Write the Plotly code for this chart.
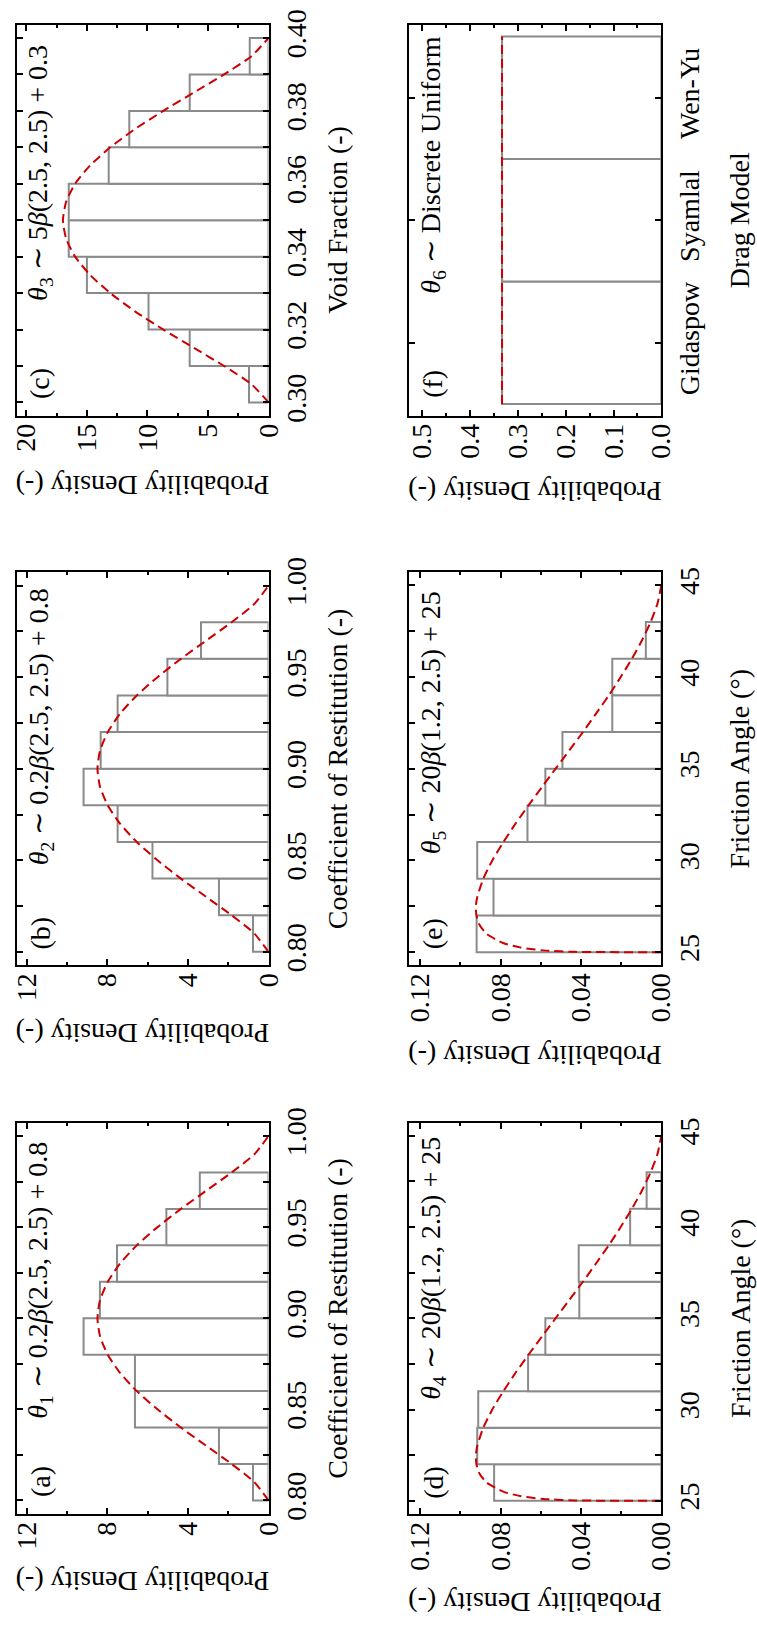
import plotly.graph_objects as go

W, H = 757, 1636
FONT = "Liberation Serif"
GRAY = "#8a8a8a"
RED = "#cc0000"

# ---------------- data ----------------
# (a) theta1, (b) theta2 : coefficient of restitution histograms (bin edges, density)
a_edges = [0.80, 0.82, 0.84, 0.86, 0.88, 0.90, 0.92, 0.94, 0.96, 0.98]
a_dens = [0.77, 2.46, 6.63, 6.63, 9.18, 8.37, 7.52, 5.07, 3.41]
b_edges = [0.80, 0.82, 0.84, 0.86, 0.88, 0.90, 0.92, 0.94, 0.96, 0.98]
b_dens = [0.77, 2.46, 5.76, 7.49, 9.18, 8.33, 7.49, 5.02, 3.35]
ab_curve_x = [0.80, 0.81, 0.82, 0.83, 0.84, 0.85, 0.86, 0.87, 0.88, 0.89, 0.90,
              0.91, 0.92, 0.93, 0.94, 0.95, 0.96, 0.97, 0.98, 0.99, 1.00]
ab_curve_y = [0.0, 0.70, 1.83, 3.09, 4.35, 5.51, 6.54, 7.37, 7.98, 8.36, 8.49,
              8.36, 7.98, 7.37, 6.54, 5.51, 4.35, 3.09, 1.83, 0.70, 0.0]

# (c) theta3 : void fraction
c_edges = [0.30, 0.31, 0.32, 0.33, 0.34, 0.35, 0.36, 0.37, 0.38, 0.39, 0.40]
c_dens = [1.61, 6.51, 9.91, 15.0, 16.5, 16.5, 13.2, 11.5, 6.51, 1.55]
c_curve_x = [0.300, 0.305, 0.310, 0.315, 0.320, 0.325, 0.330, 0.335, 0.340, 0.345, 0.350,
             0.355, 0.360, 0.365, 0.370, 0.375, 0.380, 0.385, 0.390, 0.395, 0.400]
c_curve_y = [0.0, 1.41, 3.67, 6.18, 8.69, 11.03, 13.07, 14.74, 15.97, 16.72, 16.98,
             16.72, 15.97, 14.74, 13.07, 11.03, 8.69, 6.18, 3.67, 1.41, 0.0]

# (d) theta4, (e) theta5 : friction angle
d_edges = [25, 27, 29, 31, 33, 35, 37, 39, 41, 43]
d_dens = [0.0832, 0.0916, 0.0911, 0.0663, 0.0577, 0.0408, 0.0411, 0.0155, 0.0073]
e_edges = [25, 27, 29, 31, 33, 35, 37, 39, 41, 43]
e_dens = [0.0919, 0.0835, 0.0916, 0.0666, 0.0577, 0.0492, 0.0244, 0.0244, 0.0077]
de_curve_x = [25, 25.02, 25.1, 25.25, 25.5, 26, 26.5, 27, 27.5, 28, 29, 30, 31, 32, 33,
              34, 35, 36, 37, 38, 39, 40, 41, 42, 43, 44, 45]
de_curve_y = [0.0, 0.0429, 0.0588, 0.0698, 0.0787, 0.0869, 0.0905, 0.0920, 0.0923,
              0.0916, 0.0886, 0.0841, 0.0786, 0.0726, 0.0661, 0.0594, 0.0526, 0.0458,
              0.0390, 0.0325, 0.0261, 0.0202, 0.0146, 0.0096, 0.0053, 0.0019, 0.0]

# (f) theta6 : drag model
f_models = ["Gidaspow", "Syamlal", "Wen-Yu"]
f_prob = [0.3333, 0.3333, 0.3333]

# ---------------- layout geometry (pixels) ----------------
cols = [(11, 270), (414, 674)]
rows = [(10, 406), (565, 963), (1123, 1519)]

panels = [
    dict(key="c", col=0, row=0, lab="(c)", theta="<i>θ</i><sub>3</sub> ∼ 5<i>β</i>(2.5, 2.5) + 0.3",
         ytitle="Void Fraction (-)", xt_y=477, th_y=160),
    dict(key="b", col=0, row=1, lab="(b)", theta="<i>θ</i><sub>2</sub> ∼ 0.2<i>β</i>(2.5, 2.5) + 0.8",
         ytitle="Coefficient of Restitution (-)", xt_y=1033, th_y=722),
    dict(key="a", col=0, row=2, lab="(a)", theta="<i>θ</i><sub>1</sub> ∼ 0.2<i>β</i>(2.5, 2.5) + 0.8",
         ytitle="Coefficient of Restitution (-)", xt_y=1588, th_y=1283),
    dict(key="f", col=1, row=0, lab="(f)", theta="<i>θ</i><sub>6</sub> ∼ Discrete Uniform",
         ytitle="Drag Model", xt_y=483, th_y=152),
    dict(key="e", col=1, row=1, lab="(e)", theta="<i>θ</i><sub>5</sub> ∼ 20<i>β</i>(1.2, 2.5) + 25",
         ytitle="Friction Angle (°)", xt_y=1054, th_y=717),
    dict(key="d", col=1, row=2, lab="(d)", theta="<i>θ</i><sub>4</sub> ∼ 20<i>β</i>(1.2, 2.5) + 25",
         ytitle="Friction Angle (°)", xt_y=1609, th_y=1270),
]

hist = {"a": (a_edges, a_dens), "b": (b_edges, b_dens), "c": (c_edges, c_dens),
        "d": (d_edges, d_dens), "e": (e_edges, e_dens)}
curves = {"a": (ab_curve_x, ab_curve_y), "b": (ab_curve_x, ab_curve_y),
          "c": (c_curve_x, c_curve_y), "d": (de_curve_x, de_curve_y),
          "e": (de_curve_x, de_curve_y)}

xcfg = {  # density axis: range max, dtick, minor, format
    "a": (12.5, 4, 2, ""), "b": (12.5, 4, 2, ""), "c": (20.8, 5, 2.5, ""),
    "d": (0.1258, 0.04, 0.02, ".2f"), "e": (0.1258, 0.04, 0.02, ".2f"),
    "f": (0.529, 0.1, 0.05, ".1f"),
}
ycfg = {  # value axis: range, dtick, minor, format
    "a": ([0.7928, 1.0072], 0.05, 0.025, ".2f"), "b": ([0.7928, 1.0072], 0.05, 0.025, ".2f"),
    "c": ([0.2964, 0.4036], 0.02, 0.01, ".2f"),
    "d": ([24.3, 45.7], 5, 2.5, ""), "e": ([24.3, 45.7], 5, 2.5, ""),
    "f": ([0.406, 3.594], None, None, ""),
}

fig = go.Figure()
annotations = []
layout = dict(width=W, height=H, margin=dict(l=0, r=0, t=0, b=0), autosize=False,
              paper_bgcolor="white", plot_bgcolor="white", showlegend=False,
              font=dict(family=FONT, size=28, color="black"))

for i, p in enumerate(panels, start=1):
    k = p["key"]
    xa = "x" if i == 1 else f"x{i}"
    ya = "y" if i == 1 else f"y{i}"
    x0, x1 = cols[p["col"]]
    y0, y1 = rows[p["row"]]

    if k in hist:
        edges, dens = hist[k]
        centers = [(edges[j] + edges[j + 1]) / 2 for j in range(len(dens))]
        widths = [edges[j + 1] - edges[j] for j in range(len(dens))]
        fig.add_trace(go.Bar(x=dens, y=centers, width=widths, base=0, orientation="h",
                             marker=dict(color="white", line=dict(color=GRAY, width=2)),
                             xaxis=xa, yaxis=ya, hoverinfo="skip"))
        cx, cy = curves[k]
        fig.add_trace(go.Scatter(x=cy, y=cx, mode="lines",
                                 line=dict(color=RED, width=2, dash="9px,5px",
                                           shape="spline", smoothing=0.6),
                                 xaxis=xa, yaxis=ya, hoverinfo="skip"))
    else:
        pos = list(range(1, len(f_models) + 1))
        fig.add_trace(go.Bar(x=f_prob, y=pos, width=1.0, base=0, orientation="h",
                             marker=dict(color="white", line=dict(color=GRAY, width=2)),
                             xaxis=xa, yaxis=ya, hoverinfo="skip"))
        fig.add_trace(go.Scatter(x=[f_prob[0], f_prob[-1]], y=[pos[0] - 0.5, pos[-1] + 0.5],
                                 mode="lines", line=dict(color=RED, width=2, dash="9px,5px"),
                                 xaxis=xa, yaxis=ya, hoverinfo="skip"))

    xmax, xd, xm, xf = xcfg[k]
    common = dict(showline=True, linecolor="black", linewidth=2, mirror="ticks",
                  ticks="inside", ticklen=6, tickwidth=1.5, tickcolor="black",
                  showgrid=False, zeroline=False, tickfont=dict(family=FONT, size=28))
    layout[f"xaxis{i}"] = dict(domain=[x0 / W, x1 / W], anchor=ya, range=[xmax, 0],
                               tick0=0, dtick=xd, tickformat=xf, tickangle=-90,
                               ticklabelstandoff=-5,
                               minor=dict(dtick=xm, tick0=0, ticks="inside", ticklen=3,
                                          tickwidth=1.5, tickcolor="black"),
                               **common)
    yr, yd, ym, yf = ycfg[k]
    yax = dict(domain=[1 - y1 / H, 1 - y0 / H], anchor=xa, side="right", range=yr,
               tickangle=-90, ticklabelstandoff=2, **common)
    if k == "f":
        yax.update(tickmode="array", tickvals=list(range(1, len(f_models) + 1)),
                   ticktext=f_models)
    else:
        yax.update(tick0=0, dtick=yd, tickformat=yf,
                   minor=dict(dtick=ym, ticks="inside", ticklen=6, tickwidth=1.5,
                              tickcolor="black"))
    if p["col"] == 1:
        yax.update(title=dict(text=p["ytitle"], standoff=26,
                              font=dict(family=FONT, size=28)), automargin=False)
    layout[f"yaxis{i}"] = yax

    xc = 35 if p["col"] == 0 else 439
    annotations.append(dict(text=p["lab"], x=xc / W, y=1 - (y1 - 32) / H, xref="paper",
                            yref="paper", showarrow=False, textangle=-90,
                            xanchor="center", yanchor="middle", font=dict(size=28)))
    annotations.append(dict(text=p["theta"], x=xc / W, y=1 - p["th_y"] / H, xref="paper",
                            yref="paper", showarrow=False, textangle=-90,
                            xanchor="center", yanchor="middle", font=dict(size=28)))
    annotations.append(dict(text="Probability Density (-)", x=((x0 + x1) / 2) / W,
                            y=1 - p["xt_y"] / H, xref="paper", yref="paper",
                            showarrow=False, textangle=180, xanchor="center",
                            yanchor="middle", font=dict(size=28)))
    if p["col"] == 0:
        annotations.append(dict(text=p["ytitle"], x=341 / W, xanchor="center",
                                y=1 - ((y0 + y1) / 2) / H, xref="paper", yref="paper",
                                showarrow=False, textangle=-90, yanchor="middle",
                                font=dict(size=28)))

layout["annotations"] = annotations
fig.update_layout(**layout)
fig.write_html("out.html")
